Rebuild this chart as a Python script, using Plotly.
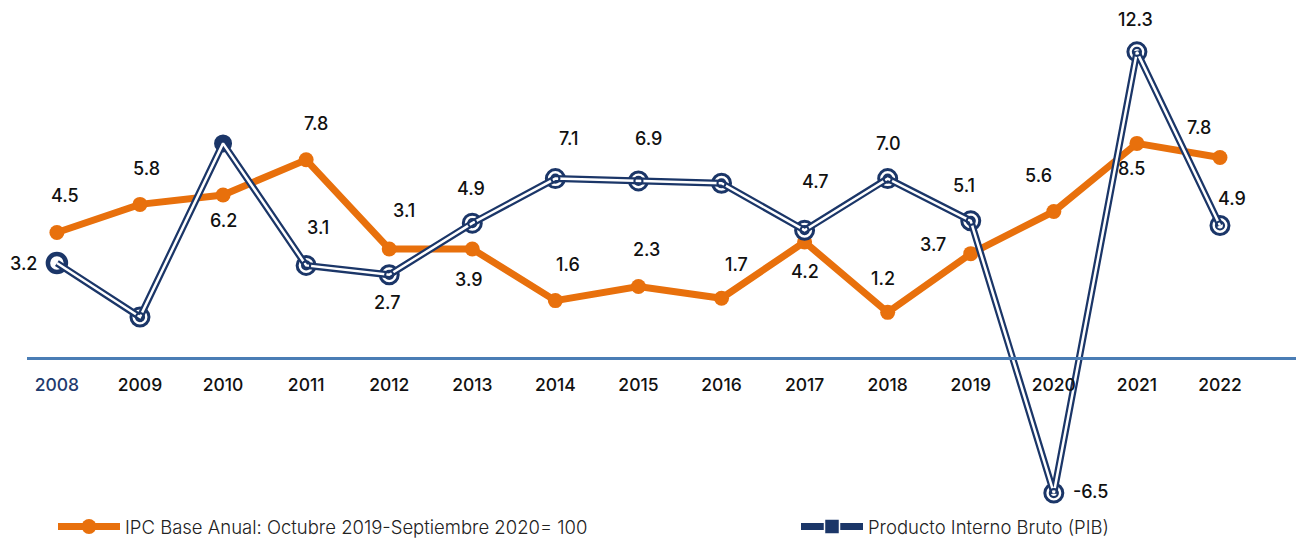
import plotly.graph_objects as go

years = [2008, 2009, 2010, 2011, 2012, 2013, 2014, 2015, 2016, 2017, 2018, 2019, 2020, 2021, 2022]
year_labels = ["<span style='color:#1f3b6e'>2008</span>"] + [str(y) for y in years[1:]]

# IPC (orange) values as plotted, and their printed labels
ipc = [4.6, 5.8, 6.2, 7.7, 3.9, 3.9, 1.7, 2.3, 1.8, 4.2, 1.2, 3.7, 5.5, 8.4, 7.8]
ipc_labels = ["4.5", "5.8", "6.2", "7.8", "3.1", "3.9", "1.6", "2.3", "1.7", "4.2", "1.2", "3.7", "5.6", "8.5", "7.8"]

# PIB (navy) values as plotted, and their printed labels
pib = [3.3, 1.0, 8.4, 3.2, 2.8, 5.0, 6.9, 6.8, 6.7, 4.7, 6.9, 5.1, -6.5, 12.3, 4.9]
pib_labels = ["3.2", "", "", "3.1", "2.7", "4.9", "7.1", "6.9", "", "4.7", "7.0", "5.1", "-6.5", "12.3", "4.9"]

# label offsets (pixels) relative to their point
ipc_dx = [8, 7, 0, 10, 15, -3, 13, 8, 15, 0, -5, -38, -15, -5, -21]
ipc_dy = [37, 36, -25, 36, 38, -31, 36, 37, 34, -30, 34, 9, 36, -25, 30]
pib_dx = [-33, 0, 0, 12, -2, -1, 13, 10, 0, 11, 1, -7, 37, -1, 12]
pib_dy = [0, 0, 0, 38, -28, 35, 40, 42, 0, 49, 35, 35, 2, 32, 27]

ORANGE = "#E8700C"
NAVY = "#1b3668"
AXIS = "#4a7db5"
FONT = "Inter"

fig = go.Figure()

fig.add_trace(go.Scatter(
    x=years, y=ipc, mode="lines+markers",
    name="IPC Base Anual: Octubre 2019-Septiembre 2020= 100",
    line=dict(color=ORANGE, width=7),
    marker=dict(color=ORANGE, size=15, opacity=1),
    legend="legend",
))

outer_size = [18 if i != 2 else 15 for i in range(len(years))]
outer_fill = ["white" if i != 2 else NAVY for i in range(len(years))]
outer_lw = [4.5 if i == 0 else 3 for i in range(len(years))]
fig.add_trace(go.Scatter(
    x=years, y=pib, mode="markers", showlegend=False,
    marker=dict(symbol="circle", size=outer_size, color=outer_fill, opacity=1,
                line=dict(color=NAVY, width=outer_lw)),
))
fig.add_trace(go.Scatter(
    x=years, y=pib, mode="lines", showlegend=False,
    line=dict(color=NAVY, width=7),
))
fig.add_trace(go.Scatter(
    x=years, y=pib, mode="lines", showlegend=False,
    line=dict(color="white", width=2.5),
))
inner_size = [0 if i in (0, 2) else 8 for i in range(len(years))]
fig.add_trace(go.Scatter(
    x=years, y=pib, mode="markers", showlegend=False,
    marker=dict(symbol="circle-open", size=inner_size, color=NAVY, opacity=1,
                line=dict(color=NAVY, width=2.2)),
))
# legend entry for PIB
fig.add_trace(go.Scatter(
    x=[None], y=[None], mode="lines+markers",
    name="Producto Interno Bruto (PIB)",
    line=dict(color=NAVY, width=7),
    marker=dict(symbol="square", size=15, color=NAVY, line=dict(color="white", width=1.5)),
    legend="legend2",
))

label_font = dict(family=FONT, size=18, color="#111111", weight=500)
for x, v, t, dx, dy in zip(years, ipc, ipc_labels, ipc_dx, ipc_dy):
    if t:
        fig.add_annotation(x=x, y=v, text=t, showarrow=False, xshift=dx, yshift=dy, font=label_font)
for x, v, t, dx, dy in zip(years, pib, pib_labels, pib_dx, pib_dy):
    if t:
        fig.add_annotation(x=x, y=v, text=t, showarrow=False, xshift=dx, yshift=dy, font=label_font)

plot_h = 505
plot_w = 1296 - 27
axis_px = 358
legend_font = dict(family=FONT, size=18.5, color="#222222", weight=300)
fig.update_layout(
    width=1296, height=542,
    margin=dict(l=27, r=0, t=0, b=542 - plot_h, autoexpand=False),
    paper_bgcolor="white", plot_bgcolor="white",
    font=dict(family=FONT),
    xaxis=dict(
        range=[2007.64, 2022.915], tickmode="array", tickvals=years, ticktext=year_labels,
        showgrid=False, zeroline=False, showline=True, linecolor=AXIS, linewidth=2.5,
        anchor="free", position=(plot_h - axis_px) / plot_h, automargin=False,
        ticks="outside", ticklen=10, tickcolor="rgba(0,0,0,0)",
        tickfont=dict(family=FONT, size=17.5, color="#111111", weight=500),
    ),
    yaxis=dict(range=[-7.01, 14.51], visible=False, showgrid=False, zeroline=False, automargin=False),
    showlegend=True,
    hovermode=False,
    legend=dict(
        orientation="h", x=(53 - 27) / plot_w, xanchor="left", y=(plot_h - 527) / plot_h, yanchor="middle",
        font=legend_font, itemwidth=62, bgcolor="rgba(0,0,0,0)",
    ),
    legend2=dict(
        orientation="h", x=(796 - 27) / plot_w, xanchor="left", y=(plot_h - 527) / plot_h, yanchor="middle",
        font=legend_font, itemwidth=62, bgcolor="rgba(0,0,0,0)",
    ),
)

fig.write_html("out.html", post_script="document.body.style.margin='0';",
               config={"displayModeBar": False})
